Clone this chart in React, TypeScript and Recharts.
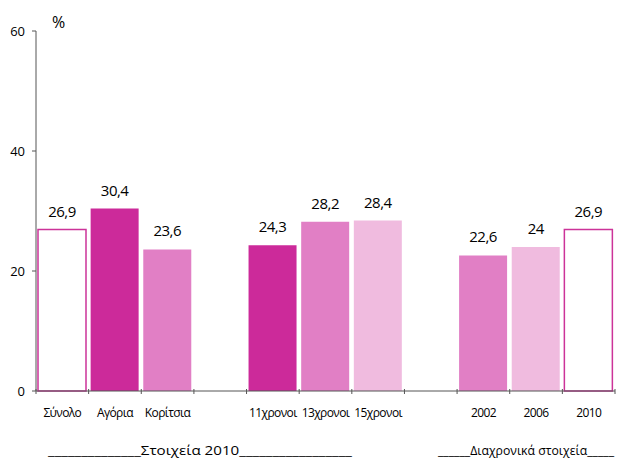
import { BarChart, Bar, XAxis, YAxis, Cell, LabelList } from 'recharts';

const categories = ['Σύνολο', 'Αγόρια', 'Κορίτσια', '', '11χρονοι', '13χρονοι', '15χρονοι', '', '2002', '2006', '2010'];
const values = [26.9, 30.4, 23.6, null, 24.3, 28.2, 28.4, null, 22.6, 24, 26.9];
const yTicks = [0, 20, 40, 60];
const groupLabels = ['______________Στοιχεία 2010_________________', '______Διαχρονικά στοιχεία_____'];

const fills = ['#ffffff', '#cc2a9a', '#e17fc5', 'none', '#cc2a9a', '#e17fc5', '#f0bbdf', 'none', '#e17fc5', '#f0bbdf', '#ffffff'];
const strokes = ['#cc3399', 'none', 'none', 'none', 'none', 'none', 'none', 'none', 'none', 'none', '#cc3399'];

const data = categories.map((name, i) => ({ id: 'c' + i, name, value: values[i] }));

const FONT = '"Open Sans", sans-serif';
const BAND = (615 - 36) / categories.length;

function XTick(props: any) {
    const { x, y, payload, index } = props;
    const i = payload.index ?? index;
    const name = categories[i] ?? '';
    const left = x - BAND / 2;
    return (
        <g>
            <line x1={left} y1={y - 8} x2={left} y2={y - 3} stroke="#555" />
            {i === categories.length - 1 && (
                <line x1={left + BAND} y1={y - 8} x2={left + BAND} y2={y - 3} stroke="#555" />
            )}
            <text x={x} y={y + 20} textAnchor="middle" fontSize={12} letterSpacing={-0.6} fill="#000" fontFamily={FONT}>
                {name}
            </text>
        </g>
    );
}

export default function App() {
    return (
        <div style={{ position: 'absolute', left: 0, top: 0, width: 624, height: 460, background: '#fff' }}>
            <BarChart width={624} height={460} data={data} margin={{ top: 31, right: 9, bottom: 39, left: 0 }}>
                <XAxis
                    dataKey="id"
                    tickLine={false}
                    axisLine={{ stroke: '#555' }}
                    interval={0}
                    tick={<XTick />}
                    tickMargin={0}
                />
                <YAxis
                    width={36}
                    domain={[0, 60]}
                    ticks={yTicks}
                    axisLine={{ stroke: '#555' }}
                    tickLine={{ stroke: '#555' }}
                    tickSize={4}
                    tickMargin={7}
                    tick={{ fontSize: 13, fill: '#000', fontFamily: FONT }}
                />
                <Bar dataKey="value" barSize={48} isAnimationActive={false}>
                    {data.map((d, i) => (
                        <Cell key={d.id} fill={fills[i]} stroke={strokes[i]} strokeWidth={1.5} />
                    ))}
                    <LabelList
                        dataKey="value"
                        position="top"
                        offset={13}
                        formatter={(v: any) => (v == null ? '' : String(v).replace('.', ','))}
                        style={{ fontSize: 15, fill: '#000', fontFamily: FONT, letterSpacing: -0.5 }}
                    />
                </Bar>
            </BarChart>
            <svg width={624} height={460} style={{ position: 'absolute', left: 0, top: 0, pointerEvents: 'none' }}>
                <text x={52} y={28} fontSize={16} fontFamily={FONT}>%</text>
                <text x={48} y={455} fontSize={13} fontFamily={FONT} textLength={304} lengthAdjust="spacingAndGlyphs">
                    {groupLabels[0]}
                </text>
                <text x={438} y={455} fontSize={13} fontFamily={FONT} textLength={176} lengthAdjust="spacingAndGlyphs">
                    {groupLabels[1]}
                </text>
            </svg>
        </div>
    );
}
